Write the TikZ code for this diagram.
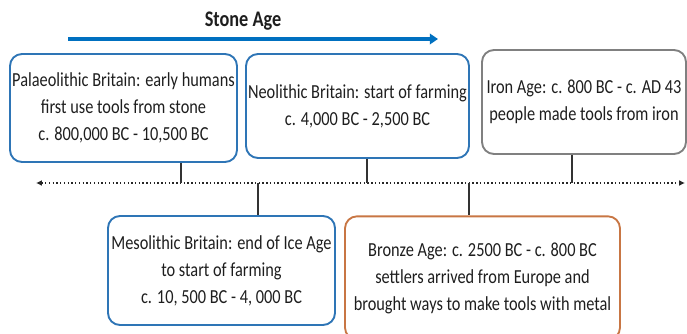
\documentclass[tikz,border=0pt]{standalone}
\usepackage{fontspec}
\setmainfont{Carlito}[FakeStretch=0.82]
\usetikzlibrary{positioning, calc, arrows.meta}
\usepackage{xcolor}
\definecolor{ageblue}{RGB}{46,117,182}
\definecolor{agearrow}{RGB}{0,112,192}
\definecolor{agegray}{RGB}{128,128,128}
\definecolor{ageorange}{RGB}{200,118,68}
\definecolor{agetext}{RGB}{30,30,30}

\tikzset{
  agebox/.style={draw=#1, line width=1.6pt, rounded corners=0.36cm, align=center,
    text=agetext, font=\fontsize{17}{23}\selectfont, inner sep=0pt},
  stemline/.style={line width=1pt, black!80},
}

\begin{document}
\begin{tikzpicture}[x=0.03cm, y=-0.03cm]
\useasboundingbox (0,0) rectangle (687,334);

% Stone Age heading
\node[font=\fontsize{19}{22}\selectfont\bfseries, text=agetext] (stone) at (243,21) {Stone Age};
\coordinate (sa1) at (68,39);
\coordinate (sa2) at (438,39);
\draw[agearrow, line width=3pt, -{Triangle[length=7pt, width=9pt]}] (sa1) -- (sa2);

% boxes above the line
\node[agebox=ageblue, minimum width=6.81cm, minimum height=3.24cm] (palaeo) at (123.5,108)
  {Palaeolithic Britain: early humans\\first use tools from stone\\c. 800,000 BC - 10,500 BC};
\node[agebox=ageblue, minimum width=6.69cm, minimum height=3.12cm] (neo) at (357.5,106)
  {Neolithic Britain: start of farming\\c. 4,000 BC - 2,500 BC};
\node[agebox=agegray, minimum width=6.12cm, minimum height=3.12cm] (iron) at (584,102)
  {Iron Age: c. 800 BC - c. AD 43\\people made tools from iron};

% boxes below the line
\node[agebox=ageblue, minimum width=6.81cm, minimum height=3.27cm] (meso) at (221.5,270.5)
  {Mesolithic Britain: end of Ice Age\\to start of farming\\c. 10, 500 BC - 4, 000 BC};
\node[agebox=ageorange, minimum width=8.25cm, minimum height=3.7cm] (bronze) at (482.5,278)
  {Bronze Age: c. 2500 BC - c. 800 BC\\settlers arrived from Europe and\\brought ways to make tools with metal};

% timeline
\coordinate (tl) at (36,183);
\coordinate (tr) at (685,183);
\draw[line width=1.2pt, dotted, black!85, {Latex[length=5pt, width=5pt]}-{Latex[length=5pt, width=5pt]}] (tl) -- (tr);

\draw[stemline] (palaeo.south -| 181,0) -- (181,183);
\draw[stemline] (neo.south -| 367,0) -- (367,183);
\draw[stemline] (iron.south -| 572,0) -- (572,183);
\draw[stemline] (258,183) -- (meso.north -| 258,0);
\draw[stemline] (469,183) -- (bronze.north -| 469,0);

\end{tikzpicture}
\end{document}
